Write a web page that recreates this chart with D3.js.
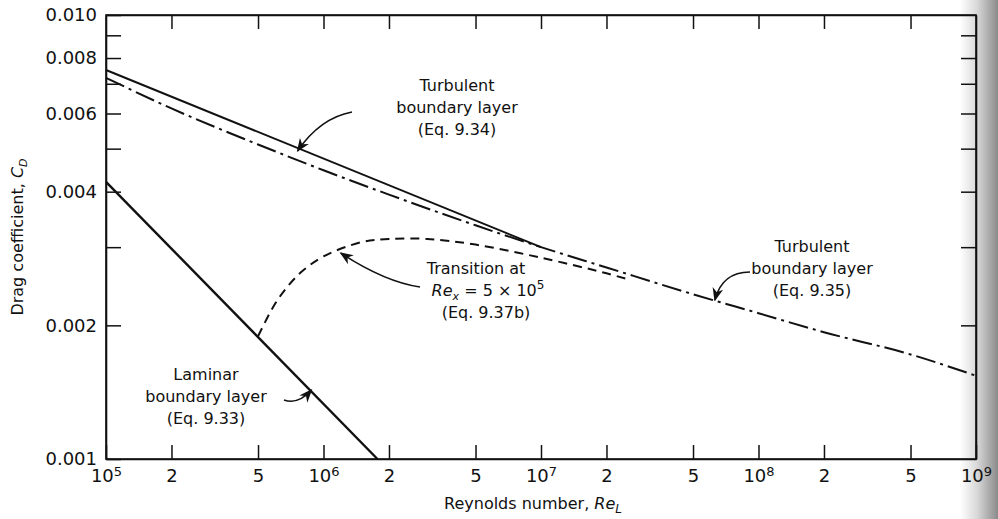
<!DOCTYPE html>
<html>
<head>
<meta charset="utf-8">
<script src="https://cdn.jsdelivr.net/npm/d3@7"></script>
<style>
  body { margin: 0; background: #fff; }
  svg { display: block; font-family: "DejaVu Sans", sans-serif; }
  .lbl { font-size: 16px; fill: #111; }
</style>
</head>
<body>
<svg id="chart" width="998" height="519"></svg>
<script>
// Reynolds number / drag coefficient values
var turbulent934Re = [1e5, 1e7];
var turbulent934Cd = [0.00752, 0.00300];

var turbulent935Re = [1e5, 2e5, 5e5, 1e6, 2e6, 5e6, 1e7, 2e7, 5e7, 1e8, 2e8, 5e8, 1e9];
var turbulent935Cd = [0.00722, 0.00616, 0.00511, 0.00447, 0.00394, 0.00336, 0.00300, 0.00270, 0.00235, 0.00213, 0.00193, 0.00172, 0.00154];

var transitionRe = [5e5, 6e5, 7e5, 8e5, 1e6, 1.5e6, 2e6, 3e6, 5e6, 1e7, 2e7, 2.5e7];
var transitionCd = [0.00189, 0.00224, 0.00248, 0.00265, 0.00286, 0.00308, 0.00313, 0.00313, 0.00304, 0.00284, 0.00262, 0.00254];

var laminarRe = [1e5, 1.77e6];
var laminarCd = [0.00421, 0.001];

var xTicks = [1e5, 2e5, 5e5, 1e6, 2e6, 5e6, 1e7, 2e7, 5e7, 1e8, 2e8, 5e8, 1e9];
var yTicks = [0.001, 0.002, 0.003, 0.004, 0.005, 0.006, 0.007, 0.008, 0.009, 0.010];
var yLabelled = [0.001, 0.002, 0.004, 0.006, 0.008, 0.010];

var svg = d3.select('#chart');
var margin = {top: 15, right: 22, bottom: 60, left: 106};
var width = 998, height = 519;

var x = d3.scaleLog().domain([1e5, 1e9]).range([margin.left, width - margin.right]);
var y = d3.scaleLog().domain([0.001, 0.010]).range([height - margin.bottom, margin.top]);

// scan shading on the right edge
var defs = svg.append('defs');
var grad = defs.append('linearGradient').attr('id', 'shade').attr('x1', 0).attr('x2', 1);
grad.append('stop').attr('offset', '0%').attr('stop-color', '#fff');
grad.append('stop').attr('offset', '45%').attr('stop-color', '#d8d8d8');
grad.append('stop').attr('offset', '100%').attr('stop-color', '#8a8a8a');
svg.append('rect').attr('x', 960).attr('y', 0).attr('width', 38).attr('height', height)
    .attr('fill', 'url(#shade)');

defs.append('marker').attr('id', 'head')
    .attr('viewBox', '0 0 10 10').attr('refX', 9).attr('refY', 5)
    .attr('markerWidth', 9).attr('markerHeight', 9).attr('orient', 'auto')
    .append('path').attr('d', 'M0,1 L10,5 L0,9 L3,5 Z').attr('fill', '#111');

function sup(el, d) {
    var p = Math.floor(Math.log10(d) + 1e-9);
    var m = Math.round(d / Math.pow(10, p));
    el.text(null);
    if (m === 1) {
        el.append('tspan').text('10');
        el.append('tspan').attr('dy', '-0.45em').attr('font-size', '13px').text(p);
    } else {
        el.text(m);
    }
}

// bottom axis
var xAxis = d3.axisBottom(x).tickValues(xTicks).tickSizeInner(-14).tickSizeOuter(0).tickPadding(10);
var gx = svg.append('g').attr('class', 'axis')
    .attr('transform', 'translate(0,' + (height - margin.bottom) + ')')
    .call(xAxis);
gx.attr('font-family', null);
gx.selectAll('.tick text').attr('font-size', 18).attr('fill', '#111')
    .each(function(d) { sup(d3.select(this), d); });

// top axis
svg.append('g')
    .attr('transform', 'translate(0,' + margin.top + ')')
    .call(d3.axisTop(x).tickValues(xTicks.slice(1, -1)).tickSizeInner(-14).tickSizeOuter(0).tickFormat(''));

// left axis
var gy = svg.append('g')
    .attr('transform', 'translate(' + margin.left + ',0)')
    .call(d3.axisLeft(y).tickValues(yTicks).tickSizeInner(-15).tickSizeOuter(0).tickPadding(9)
        .tickFormat(function(d) { return yLabelled.some(function(v) { return Math.abs(v - d) < 1e-9; }) ? d3.format('.3f')(d) : ''; }));
gy.attr('font-family', null);
gy.selectAll('.tick text').attr('font-size', 18).attr('fill', '#111');

// right axis
svg.append('g')
    .attr('transform', 'translate(' + (width - margin.right) + ',0)')
    .call(d3.axisRight(y).tickValues(yTicks.slice(1, -1)).tickSizeInner(-15).tickSizeOuter(0).tickFormat(''));

svg.selectAll('.domain').attr('stroke', '#111').attr('stroke-width', 1.6);
svg.selectAll('.tick line').attr('stroke', '#111').attr('stroke-width', 1.5);

// frame
svg.append('rect')
    .attr('x', margin.left).attr('y', margin.top)
    .attr('width', width - margin.right - margin.left)
    .attr('height', height - margin.bottom - margin.top)
    .attr('fill', 'none').attr('stroke', '#111').attr('stroke-width', 1.6);

function series(res, cds) {
    return res.map(function(r, i) { return [r, cds[i]]; });
}

var line = d3.line()
    .x(function(d) { return x(d[0]); })
    .y(function(d) { return y(d[1]); })
    .curve(d3.curveMonotoneX);

svg.append('path').datum(series(turbulent935Re, turbulent935Cd))
    .attr('d', line).attr('fill', 'none').attr('stroke', '#111').attr('stroke-width', 2)
    .attr('stroke-dasharray', '20,5,3,5');

svg.append('path').datum(series(turbulent934Re, turbulent934Cd))
    .attr('d', line).attr('fill', 'none').attr('stroke', '#111').attr('stroke-width', 2);

svg.append('path').datum(series(transitionRe, transitionCd))
    .attr('d', d3.line().x(function(d) { return x(d[0]); }).y(function(d) { return y(d[1]); }).curve(d3.curveCatmullRom))
    .attr('fill', 'none').attr('stroke', '#111').attr('stroke-width', 2)
    .attr('stroke-dasharray', '9,6');

svg.append('path').datum(series(laminarRe, laminarCd))
    .attr('d', line).attr('fill', 'none').attr('stroke', '#111').attr('stroke-width', 2.4);

// annotations
function block(cx, cy, lines) {
    var t = svg.append('text').attr('class', 'lbl').attr('text-anchor', 'middle');
    lines.forEach(function(s, i) {
        t.append('tspan').attr('x', cx).attr('y', cy + i * 22).text(s);
    });
    return t;
}

block(457, 91, ['Turbulent', 'boundary layer', '(Eq. 9.34)']);
block(812, 252, ['Turbulent', 'boundary layer', '(Eq. 9.35)']);
block(206, 380, ['Laminar', 'boundary layer', '(Eq. 9.33)']);

var tr = svg.append('text').attr('class', 'lbl').attr('text-anchor', 'middle');
tr.append('tspan').attr('x', 476).attr('y', 274).text('Transition at');
var t2 = svg.append('text').attr('class', 'lbl').attr('text-anchor', 'middle').attr('x', 488).attr('y', 296);
t2.append('tspan').attr('font-style', 'italic').text('Re');
t2.append('tspan').attr('font-style', 'italic').attr('font-size', '11px').attr('dy', 4).text('x');
t2.append('tspan').attr('dy', -4).text(' = 5 \u00d7 10');
t2.append('tspan').attr('font-size', '12px').attr('dy', -7).text('5');
svg.append('text').attr('class', 'lbl').attr('text-anchor', 'middle')
    .attr('x', 486).attr('y', 318).text('(Eq. 9.37b)');

// arrows: [start px, control px, tip at a data point]
var arrows = [
    {from: [352, 112], ctrl: [320, 118], tip: [7.6e5, 0.00494]},
    {from: [420, 287], ctrl: [385, 282], tip: [1.2e6, 0.00291]},
    {from: [750, 272], ctrl: [722, 272], tip: [6.3e7, 0.00228]},
    {from: [284, 400], ctrl: [298, 405], tip: [8.8e5, 0.00143]}
];
arrows.forEach(function(a) {
    var tx = x(a.tip[0]), ty = y(a.tip[1]);
    svg.append('path')
        .attr('d', 'M' + a.from[0] + ',' + a.from[1] + ' Q' + a.ctrl[0] + ',' + a.ctrl[1] + ' ' + tx + ',' + ty)
        .attr('fill', 'none').attr('stroke', '#111').attr('stroke-width', 1.5)
        .attr('marker-end', 'url(#head)');
});

// axis titles
var xt = svg.append('text').attr('class', 'lbl').attr('font-size', 17).attr('text-anchor', 'middle')
    .attr('x', 533).attr('y', 509);
xt.append('tspan').text('Reynolds number, ');
xt.append('tspan').attr('font-style', 'italic').text('Re');
xt.append('tspan').attr('font-style', 'italic').attr('font-size', '12px').attr('dy', 4).text('L');

var yt = svg.append('text').attr('class', 'lbl').attr('text-anchor', 'middle')
    .attr('transform', 'translate(23,237) rotate(-90)');
yt.append('tspan').text('Drag coefficient, ');
yt.append('tspan').attr('font-style', 'italic').text('C');
yt.append('tspan').attr('font-style', 'italic').attr('font-size', '11px').attr('dy', 4).text('D');
</script>
</body>
</html>
